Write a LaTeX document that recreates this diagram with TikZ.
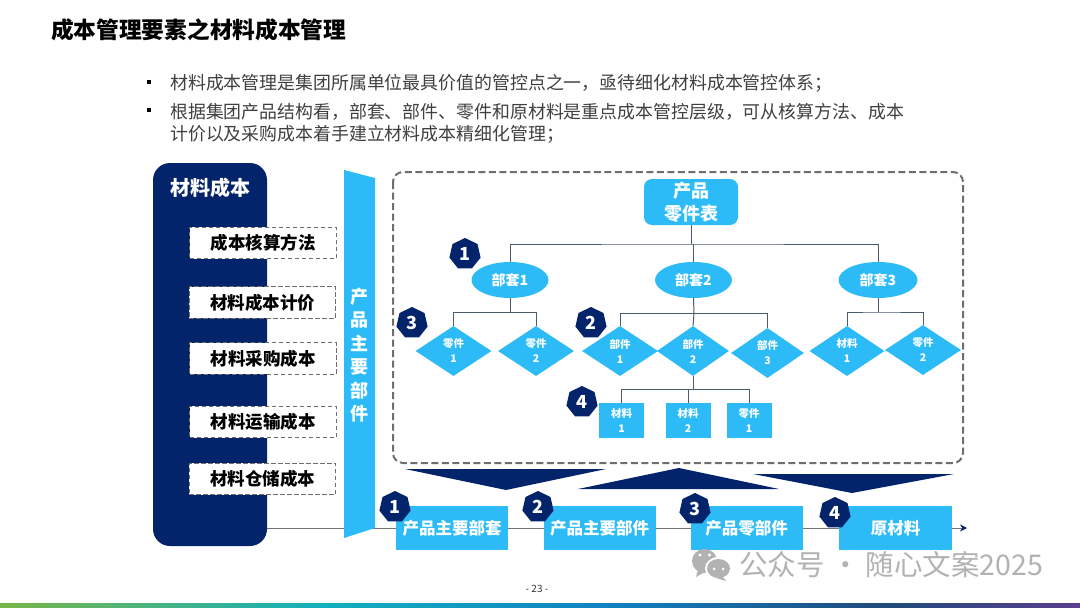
\documentclass[tikz,border=0pt]{standalone}
\usepackage{fontspec}
\setmainfont{Noto Sans CJK SC}
\usetikzlibrary{shapes.geometric,arrows.meta}
\definecolor{sky}{HTML}{2DBBF8}
\definecolor{navy}{HTML}{03246B}
\definecolor{conn}{HTML}{4A5A6A}
\definecolor{dashgray}{HTML}{6E6E6E}
\definecolor{wm}{HTML}{B2B2B2}
\definecolor{fa}{HTML}{7AB648}
\definecolor{fb}{HTML}{12B0BE}
\definecolor{fc}{HTML}{1182C2}
\definecolor{fd}{HTML}{204A7C}
\definecolor{fe}{HTML}{5A3F8F}
\pgfdeclarehorizontalshading{footband}{100bp}{color(0bp)=(fa); color(25bp)=(fa); color(40bp)=(fb); color(53bp)=(fc); color(66bp)=(fd); color(75bp)=(fe); color(100bp)=(fe)}
\tikzset{
  badge/.style={regular polygon,regular polygon sides=7,fill=navy,text=white,inner sep=0pt,minimum size=32pt,font=\fontsize{18}{18}\selectfont\bfseries},
  costbox/.style={draw=dashgray,dash pattern=on 4.5pt off 2.5pt,line width=.7pt,fill=white,inner sep=0pt,minimum width=146.5pt,minimum height=31.5pt,text=black,font=\fontsize{17.5}{18}\selectfont\bfseries},
  oval/.style={ellipse,fill=sky,text=white,inner sep=0pt,minimum width=77pt,minimum height=36pt,font=\fontsize{14}{14}\selectfont\bfseries},
  dia/.style={diamond,fill=sky,text=white,inner sep=0pt,minimum width=76pt,minimum height=50pt,align=center,font=\fontsize{10.5}{15}\selectfont\bfseries},
  sq/.style={fill=sky,text=white,inner sep=0pt,minimum width=45pt,minimum height=35pt,align=center,font=\fontsize{10.5}{15}\selectfont\bfseries},
  stage/.style={fill=sky,text=white,inner sep=0pt,minimum width=112pt,minimum height=44pt,font=\fontsize{16.5}{17}\selectfont\bfseries},
  wire/.style={draw=conn,line width=1pt},
  bodytext/.style={anchor=west,inner sep=0pt,text=black!75,font=\fontsize{17.9}{18}\selectfont},
}
\begin{document}
\begin{tikzpicture}[x=1pt,y=-1pt]
\useasboundingbox[fill=white] (0,0) rectangle (1080,608);
% title and bullets
\node[anchor=west,inner sep=0pt,text=black,font=\fontsize{22.7}{23}\selectfont\bfseries] (title) at (51,30) {成本管理要素之材料成本管理};
\fill[black] (147,80) rectangle (151,84);
\fill[black] (147,108) rectangle (151,112);
\node[bodytext] (l1) at (170,83.5) {材料成本管理是集团所属单位最具价值的管控点之一，亟待细化材料成本管控体系；};
\node[bodytext] (l2) at (170,111.5) {根据集团产品结构看，部套、部件、零件和原材料是重点成本管控层级，可从核算方法、成本};
\node[bodytext] (l3) at (170,134) {计价以及采购成本着手建立材料成本精细化管理；};
% axis line
\coordinate (axA) at (267,528);
\coordinate (axB) at (967,528);
\draw[draw=black!55,line width=1pt,-{Stealth[length=7pt,width=7pt,color=navy]}] (axA) -- (axB);
% left panel
\node[fill=navy,rounded corners=17pt,inner sep=0pt,minimum width=114pt,minimum height=383pt] (panel) at (210,354.5) {};
\node[text=white,inner sep=0pt,font=\fontsize{20}{20}\selectfont\bfseries] (ptitle) at (210,188) {材料成本};
\node[costbox] (c1) at (263,243) {成本核算方法};
\node[costbox] (c2) at (262.5,302.5) {材料成本计价};
\node[costbox] (c3) at (263,358.5) {材料采购成本};
\node[costbox] (c4) at (263,422) {材料运输成本};
\node[costbox] (c5) at (262.5,479) {材料仓储成本};
% bar
\fill[sky] (344,170) -- (375,178) -- (375,528) -- (344,538) -- cycle;
\node[text=white,inner sep=0pt,align=center,font=\fontsize{18}{23.4}\selectfont\bfseries] (barlabel) at (359,355) {产\\品\\主\\要\\部\\件};
% frame
\draw[dashgray,line width=2pt,dash pattern=on 7pt off 3.5pt,rounded corners=10pt] (393,172) rectangle (963,463);
% triangles
\fill[navy] (405,469) -- (606,469) -- (506,490) -- cycle;
\fill[navy] (578,489) -- (779,489) -- (679,468) -- cycle;
\fill[navy] (753,474) -- (954,474) -- (852,493) -- cycle;
% tree nodes
\node[fill=sky,rounded corners=8pt,text=white,inner sep=0pt,minimum width=94pt,minimum height=46pt,align=center,font=\fontsize{18}{23}\selectfont\bfseries] (root) at (691,202) {产品\\零件表};
\node[oval] (e1) at (510,280) {部套1};
\node[oval] (e2) at (693.5,280) {部套2};
\node[oval,minimum width=79pt] (e3) at (878,280) {部套3};
\node[dia] (d1) at (453.5,351) {零件\\1};
\node[dia] (d2) at (536,351) {零件\\2};
\node[dia] (d3) at (620,351) {部件\\1};
\node[dia,minimum width=72pt] (d4) at (693,351) {部件\\2};
\node[dia,minimum width=73pt] (d5) at (767.5,353) {部件\\3};
\node[dia,minimum width=75pt] (d6) at (847,351) {材料\\1};
\node[dia] (d7) at (923,350) {零件\\2};
\node[sq] (s1) at (621.5,420.5) {材料\\1};
\node[sq] (s2) at (688,420.5) {材料\\2};
\node[sq] (s3) at (749,420.5) {零件\\1};
% tree connectors
\coordinate (busA) at (691,244);
\coordinate (bus1) at (510,312.5);
\coordinate (bus2) at (694,313.5);
\coordinate (bus3) at (878,312);
\coordinate (bus4) at (693,389.5);
\draw[wire] (root.south -| busA) -- (busA);
\draw[wire] (e1.north) |- (busA) -| (e3.north);
\draw[wire] (e2.north) -- (e2.north |- busA);
\draw[wire] (e1.south) -- (bus1);
\draw[wire] (d1.north) |- (bus1) -| (d2.north);
\draw[wire] (e2.south) -- (bus2);
\draw[wire] (d3.north) |- (bus2) -| (d5.north);
\draw[wire] (bus2) -- (d4.north);
\draw[wire] (e3.south) -- (bus3);
\draw[wire] (d6.north) |- (bus3) -| (d7.north);
\draw[wire] (d4.south) -- (bus4);
\draw[wire] (s1.north) |- (bus4) -| (s3.north);
\draw[wire] (s2.north) -- (s2.north |- bus4);
% tree badges
\node[badge] (b1) at (465,254) {1};
\node[badge] (b3) at (412,323) {3};
\node[badge] (b2) at (591,323) {2};
\node[badge] (b4) at (582,402) {4};
% stages
\node[stage] (st1) at (452,528) {产品主要部套};
\node[stage] (st2) at (599.5,528) {产品主要部件};
\node[stage] (st3) at (746.5,528) {产品零部件};
\node[stage,minimum width=113pt] (st4) at (895.5,528) {原材料};
\node[badge] (n1) at (395,507) {1};
\node[badge] (n2) at (538,507) {2};
\node[badge] (n3) at (695,509) {3};
\node[badge] (n4) at (835,513) {4};
% watermark
\fill[wm] (704.5,561) ellipse (12.5pt and 12pt);
\fill[wm] (698,570) -- (696,577) -- (705,572) -- cycle;
\fill[white] (718.5,568.5) ellipse (13.5pt and 11.5pt);
\fill[wm] (718.5,568.5) ellipse (11.5pt and 9.5pt);
\fill[wm] (722,576) -- (726,581) -- (716,578) -- cycle;
\fill[white] (700,555) circle (1.6pt) (709.5,555) circle (1.6pt) (714,569) circle (1.5pt) (723,569) circle (1.5pt);
\node[anchor=west,inner sep=0pt,text=wm,font=\fontsize{28.5}{28}\selectfont] (wmark) at (739,565) {公众号 · 随心文案2025};
% footer
\node[inner sep=0pt,font=\fontsize{10}{10}\selectfont,text=black!80] (page) at (537,589) {- 23 -};
\shade[shading=footband] (0,603) rectangle (1080,608);
\end{tikzpicture}
\end{document}
